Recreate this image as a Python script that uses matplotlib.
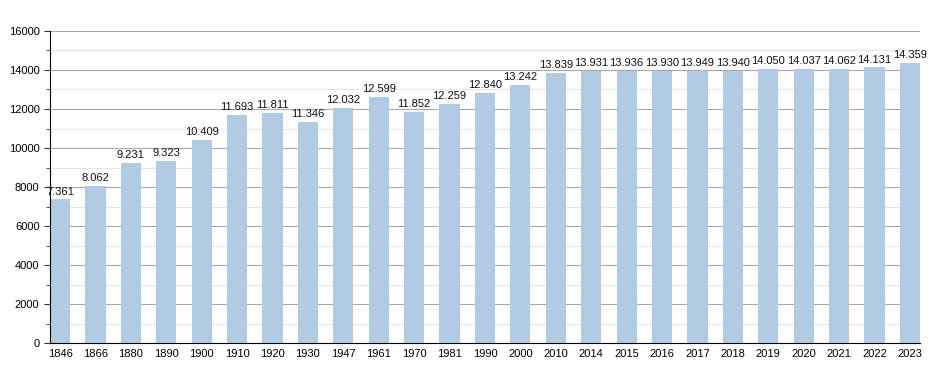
import matplotlib.pyplot as plt
from matplotlib.ticker import MultipleLocator

plt.rcParams['font.family'] = ['Liberation Sans', 'DejaVu Sans']

# census years and population
years = ['1846', '1866', '1880', '1890', '1900', '1910', '1920', '1930', '1947',
         '1961', '1970', '1981', '1990', '2000', '2010', '2014', '2015', '2016',
         '2017', '2018', '2019', '2020', '2021', '2022', '2023']
population = [7361, 8062, 9231, 9323, 10409, 11693, 11811, 11346, 12032,
              12599, 11852, 12259, 12840, 13242, 13839, 13931, 13936, 13930,
              13949, 13940, 14050, 14037, 14062, 14131, 14359]

bar_width = 0.57

fig = plt.figure(figsize=(9.5, 3.73), dpi=100)
ax = fig.add_axes([0.0526, 0.0804, 0.9158, 0.8365])

x = range(len(years))
ax.bar(x, population, width=bar_width, color='#b1cbe5', zorder=3)

for xi, v in zip(x, population):
    label = f"{v:,}".replace(',', '.')
    ax.text(xi, v + 150, label, ha='center', va='bottom', fontsize=8, color='#111111')

ax.set_xlim(-bar_width / 2, len(years) - 1 + bar_width / 2)
ax.set_ylim(0, 16000)
ax.set_xticks(list(x))
ax.set_xticklabels(years, fontsize=8)
ax.tick_params(axis='x', length=0, pad=4)

ax.yaxis.set_major_locator(MultipleLocator(2000))
ax.yaxis.set_minor_locator(MultipleLocator(1000))
ax.tick_params(axis='y', which='major', length=4, labelsize=8, color='#333333')
ax.tick_params(axis='y', which='minor', length=3, color='#333333')

ax.grid(axis='y', which='major', color='#a8a8a8', linewidth=0.8, zorder=0)
ax.grid(axis='y', which='minor', color='#e6e6e6', linewidth=0.8, zorder=0)

for side in ['top', 'right']:
    ax.spines[side].set_visible(False)
ax.spines['left'].set_color('black')
ax.spines['bottom'].set_color('black')
ax.spines['left'].set_zorder(4)
ax.spines['bottom'].set_zorder(4)

fig.savefig('out.png', dpi=100)
